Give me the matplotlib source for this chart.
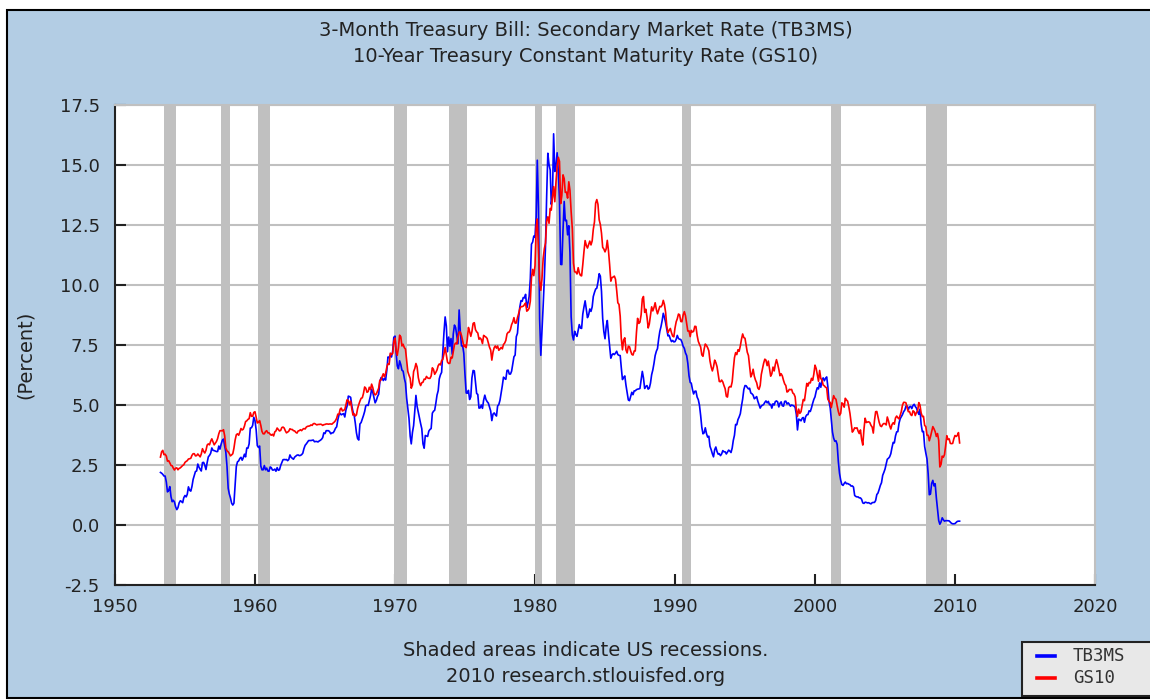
import numpy as np
import pandas as pd
import matplotlib
matplotlib.use("Agg")
from matplotlib import pyplot as plt
from matplotlib.patches import Rectangle
from matplotlib.lines import Line2D

# Monthly values, Apr 1953 .. May 2010 (percent)
tb3ms = [
    2.19, 2.16, 2.11, 2.04, 2.04, 1.79, 1.38, 1.44, 1.60,  # 1953 (Apr-Dec)
    1.18, 0.97, 1.03, 0.96, 0.76, 0.64, 0.72, 0.92, 1.01, 0.98, 0.93, 1.14,
    1.23, 1.17, 1.28, 1.59, 1.45, 1.41, 1.60, 1.90, 2.07, 2.23, 2.25, 2.54,
    2.41, 2.32, 2.25, 2.60, 2.61, 2.49, 2.31, 2.60, 2.84, 2.90, 2.99, 3.21,
    3.11, 3.10, 3.08, 3.06, 3.06, 3.29, 3.16, 3.37, 3.53, 3.58, 3.29, 3.04,
    2.44, 1.53, 1.30, 1.13, 0.91, 0.83, 0.91, 1.69, 2.44, 2.63, 2.67, 2.77,
    2.82, 2.70, 2.80, 2.95, 2.84, 3.21, 3.20, 3.38, 4.04, 4.05, 4.15, 4.49,
    4.35, 3.96, 3.31, 3.23, 3.29, 2.46, 2.30, 2.30, 2.48, 2.30, 2.37, 2.25,
    2.24, 2.42, 2.39, 2.29, 2.29, 2.33, 2.24, 2.39, 2.28, 2.30, 2.48, 2.60,
    2.72, 2.73, 2.72, 2.73, 2.68, 2.73, 2.92, 2.82, 2.78, 2.74, 2.83, 2.87,
    2.91, 2.92, 2.89, 2.90, 2.93, 2.99, 3.18, 3.32, 3.38, 3.45, 3.52, 3.52,
    3.52, 3.53, 3.54, 3.47, 3.48, 3.48, 3.46, 3.50, 3.53, 3.57, 3.64, 3.84,
    3.81, 3.93, 3.93, 3.93, 3.89, 3.80, 3.84, 3.84, 3.92, 4.03, 4.09, 4.38,
    4.59, 4.65, 4.59, 4.62, 4.64, 4.50, 4.80, 4.96, 5.37, 5.35, 5.32, 4.96,
    4.72, 4.56, 4.26, 3.84, 3.60, 3.54, 4.21, 4.27, 4.42, 4.56, 4.73, 4.97,
    5.00, 4.98, 5.17, 5.38, 5.66, 5.52, 5.31, 5.09, 5.19, 5.35, 5.45, 5.96,
    6.14, 6.12, 6.02, 6.11, 6.04, 6.44, 7.00, 6.98, 7.09, 7.00, 7.24, 7.82,
    7.87, 7.13, 6.63, 6.51, 6.84, 6.68, 6.45, 6.41, 6.12, 5.91, 5.28, 4.87,
    4.44, 3.70, 3.38, 3.86, 4.14, 4.75, 5.40, 4.94, 4.69, 4.46, 4.22, 4.01,
    3.38, 3.20, 3.73, 3.71, 3.69, 3.91, 3.98, 4.02, 4.66, 4.74, 4.78, 5.07,
    5.41, 5.60, 6.09, 6.26, 6.36, 7.19, 8.01, 8.67, 8.29, 7.22, 7.83, 7.45,
    7.77, 7.12, 7.96, 8.33, 8.23, 7.90, 7.55, 8.96, 8.06, 7.46, 7.47, 7.15,
    6.26, 5.50, 5.49, 5.61, 5.23, 5.34, 6.13, 6.44, 6.42, 5.96, 5.48, 5.44,
    4.87, 4.88, 5.00, 4.86, 5.20, 5.41, 5.23, 5.14, 5.08, 4.92, 4.75, 4.35,
    4.62, 4.67, 4.60, 4.54, 4.96, 5.02, 5.19, 5.49, 5.81, 6.16, 6.10, 6.07,
    6.44, 6.45, 6.29, 6.29, 6.41, 6.73, 7.01, 7.08, 7.85, 7.99, 8.64, 9.08,
    9.35, 9.32, 9.48, 9.46, 9.61, 9.06, 9.24, 9.52, 10.26, 11.70, 11.79, 12.04,
    12.00, 12.86, 15.20, 13.20, 8.58, 7.07, 8.06, 9.13, 10.27, 11.62, 13.73, 15.49,
    15.02, 14.79, 13.36, 13.69, 16.30, 14.73, 14.95, 15.51, 14.70, 13.54, 10.86, 10.85,
    12.28, 13.48, 12.68, 12.70, 12.09, 12.47, 11.35, 8.68, 7.92, 7.71, 8.07, 7.94,
    7.86, 8.11, 8.35, 8.21, 8.19, 8.79, 9.08, 9.34, 9.00, 8.64, 8.76, 9.00,
    8.90, 9.09, 9.52, 9.69, 9.83, 9.87, 10.12, 10.47, 10.37, 9.74, 8.61, 8.06,
    7.76, 8.27, 8.52, 7.95, 7.48, 6.95, 7.08, 7.14, 7.10, 7.16, 7.24, 7.10,
    7.07, 7.06, 6.56, 6.06, 6.15, 6.21, 5.83, 5.53, 5.21, 5.18, 5.35, 5.53,
    5.43, 5.59, 5.59, 5.64, 5.66, 5.67, 5.69, 6.04, 6.40, 6.13, 5.69, 5.77,
    5.81, 5.66, 5.70, 5.91, 6.26, 6.46, 6.73, 7.06, 7.24, 7.35, 7.76, 8.07,
    8.27, 8.53, 8.82, 8.65, 8.43, 8.15, 7.88, 7.90, 7.75, 7.64, 7.69, 7.63,
    7.64, 7.74, 7.90, 7.77, 7.74, 7.73, 7.62, 7.45, 7.36, 7.17, 7.06, 6.74,
    6.22, 5.94, 5.91, 5.65, 5.46, 5.57, 5.58, 5.33, 5.22, 4.99, 4.56, 4.07,
    3.80, 3.84, 4.05, 3.81, 3.66, 3.70, 3.28, 3.14, 2.97, 2.84, 3.14, 3.25,
    3.06, 2.95, 2.97, 2.89, 2.96, 3.10, 3.05, 3.05, 2.96, 3.04, 3.12, 3.08,
    3.02, 3.21, 3.52, 3.74, 4.19, 4.18, 4.39, 4.50, 4.64, 4.96, 5.25, 5.64,
    5.81, 5.80, 5.73, 5.67, 5.70, 5.50, 5.47, 5.41, 5.26, 5.30, 5.35, 5.16,
    5.02, 4.87, 4.96, 4.99, 5.02, 5.11, 5.17, 5.09, 5.15, 5.01, 5.03, 4.87,
    5.05, 5.00, 5.14, 5.17, 5.13, 4.92, 5.07, 5.13, 4.97, 4.95, 5.15, 5.16,
    5.04, 5.09, 5.03, 4.95, 5.00, 4.98, 4.96, 4.90, 4.61, 3.96, 4.41, 4.39,
    4.34, 4.45, 4.48, 4.28, 4.51, 4.59, 4.60, 4.76, 4.73, 4.88, 5.07, 5.23,
    5.34, 5.57, 5.72, 5.67, 5.92, 5.74, 6.03, 6.13, 6.01, 6.11, 6.17, 5.77,
    5.15, 4.88, 4.42, 3.87, 3.62, 3.49, 3.51, 3.36, 2.64, 2.16, 1.87, 1.69,
    1.65, 1.73, 1.79, 1.72, 1.73, 1.70, 1.68, 1.62, 1.63, 1.58, 1.23, 1.19,
    1.17, 1.17, 1.13, 1.13, 1.07, 0.92, 0.90, 0.95, 0.94, 0.92, 0.93, 0.90,
    0.88, 0.93, 0.94, 0.94, 1.02, 1.27, 1.33, 1.48, 1.65, 1.76, 2.07, 2.19,
    2.33, 2.54, 2.74, 2.78, 2.84, 2.97, 3.22, 3.44, 3.42, 3.71, 3.88, 3.89,
    4.24, 4.43, 4.51, 4.60, 4.72, 4.79, 4.95, 4.96, 4.81, 4.92, 4.94, 4.85,
    4.98, 5.03, 4.94, 4.87, 4.73, 4.61, 4.82, 4.20, 3.89, 3.90, 3.27, 3.00,
    2.75, 2.12, 1.26, 1.29, 1.73, 1.86, 1.63, 1.72, 1.13, 0.67, 0.19, 0.03,
    0.13, 0.30, 0.22, 0.16, 0.18, 0.18, 0.18, 0.17, 0.12, 0.07, 0.05, 0.05,
    0.06, 0.11, 0.15, 0.16, 0.16,  # 2010 (Jan-May)
]

gs10 = [
    2.83, 3.05, 3.11, 2.93, 2.95, 2.87, 2.66, 2.68, 2.59,  # 1953 (Apr-Dec)
    2.48, 2.47, 2.37, 2.29, 2.37, 2.38, 2.30, 2.36, 2.38, 2.43, 2.48, 2.51,
    2.61, 2.65, 2.68, 2.75, 2.76, 2.78, 2.90, 2.97, 2.97, 2.88, 2.89, 2.96,
    2.90, 2.84, 2.96, 3.18, 3.07, 3.00, 3.11, 3.33, 3.38, 3.34, 3.49, 3.59,
    3.46, 3.34, 3.41, 3.48, 3.60, 3.80, 3.93, 3.93, 3.92, 3.97, 3.72, 3.21,
    3.09, 3.05, 2.98, 2.88, 2.92, 2.97, 3.20, 3.54, 3.76, 3.80, 3.74, 3.86,
    4.02, 3.96, 3.99, 4.12, 4.31, 4.34, 4.40, 4.43, 4.68, 4.53, 4.53, 4.69,
    4.72, 4.49, 4.25, 4.28, 4.35, 4.15, 3.90, 3.80, 3.80, 3.89, 3.93, 3.84,
    3.84, 3.78, 3.74, 3.78, 3.71, 3.88, 3.92, 4.04, 3.98, 3.92, 3.94, 4.06,
    4.08, 4.04, 3.93, 3.84, 3.87, 3.91, 4.01, 3.98, 3.98, 3.93, 3.92, 3.86,
    3.83, 3.92, 3.93, 3.97, 3.93, 3.99, 4.02, 4.00, 4.08, 4.11, 4.12, 4.13,
    4.17, 4.15, 4.22, 4.23, 4.20, 4.17, 4.19, 4.19, 4.20, 4.19, 4.15, 4.18,
    4.19, 4.21, 4.21, 4.20, 4.21, 4.21, 4.20, 4.25, 4.29, 4.35, 4.45, 4.62,
    4.61, 4.83, 4.87, 4.75, 4.78, 4.81, 5.02, 5.22, 5.18, 5.01, 5.16, 4.84,
    4.58, 4.63, 4.54, 4.59, 4.85, 5.02, 5.16, 5.28, 5.30, 5.48, 5.75, 5.70,
    5.53, 5.56, 5.74, 5.64, 5.87, 5.72, 5.50, 5.42, 5.46, 5.58, 5.70, 6.03,
    6.04, 6.19, 6.30, 6.17, 6.32, 6.57, 6.72, 6.69, 7.16, 7.10, 7.14, 7.65,
    7.79, 7.24, 7.07, 7.39, 7.91, 7.84, 7.46, 7.53, 7.39, 7.33, 6.84, 6.39,
    6.24, 6.11, 5.70, 5.83, 6.39, 6.52, 6.73, 6.58, 6.14, 5.93, 5.81, 5.93,
    5.95, 6.08, 6.07, 6.19, 6.13, 6.11, 6.11, 6.21, 6.55, 6.48, 6.28, 6.36,
    6.46, 6.64, 6.71, 6.67, 6.85, 6.90, 7.13, 7.40, 7.09, 6.79, 6.73, 6.74,
    6.99, 6.96, 7.21, 7.51, 7.58, 7.54, 7.81, 8.04, 8.04, 7.90, 7.68, 7.43,
    7.50, 7.39, 7.73, 8.23, 8.06, 7.86, 8.06, 8.40, 8.43, 8.14, 8.05, 8.00,
    7.74, 7.79, 7.73, 7.56, 7.90, 7.86, 7.83, 7.77, 7.59, 7.41, 7.29, 6.87,
    7.21, 7.39, 7.46, 7.37, 7.46, 7.28, 7.33, 7.40, 7.34, 7.52, 7.58, 7.69,
    7.96, 8.03, 8.04, 8.15, 8.35, 8.46, 8.64, 8.41, 8.42, 8.64, 8.81, 9.01,
    9.10, 9.10, 9.12, 9.18, 9.25, 8.91, 8.95, 9.03, 9.33, 10.30, 10.65, 10.39,
    10.80, 12.41, 12.75, 11.47, 10.18, 9.78, 10.25, 11.10, 11.51, 11.75, 12.68, 12.84,
    12.57, 13.19, 13.12, 13.68, 14.10, 13.47, 14.28, 14.94, 15.32, 15.15, 13.39, 13.72,
    14.59, 14.43, 13.86, 13.87, 13.62, 14.30, 13.95, 13.06, 12.34, 10.91, 10.55, 10.54,
    10.46, 10.72, 10.51, 10.40, 10.38, 10.85, 11.38, 11.85, 11.65, 11.54, 11.69, 11.83,
    11.67, 11.84, 12.32, 12.63, 13.41, 13.56, 13.36, 12.72, 12.52, 12.16, 11.57, 11.50,
    11.38, 11.51, 11.86, 11.43, 10.85, 10.16, 10.31, 10.33, 10.37, 10.24, 9.78, 9.26,
    9.19, 8.70, 7.78, 7.30, 7.71, 7.80, 7.30, 7.17, 7.45, 7.43, 7.25, 7.11,
    7.08, 7.25, 7.25, 8.02, 8.61, 8.40, 8.45, 8.76, 9.42, 9.52, 8.86, 8.99,
    8.67, 8.21, 8.37, 8.72, 9.09, 8.92, 9.06, 9.26, 8.98, 8.80, 8.96, 9.11,
    9.09, 9.17, 9.36, 9.18, 8.86, 8.28, 8.02, 8.11, 8.19, 8.01, 7.87, 7.84,
    8.21, 8.47, 8.59, 8.79, 8.76, 8.48, 8.47, 8.75, 8.89, 8.72, 8.39, 8.08,
    8.09, 7.85, 8.11, 8.04, 8.07, 8.28, 8.27, 7.90, 7.65, 7.53, 7.42, 7.09,
    7.03, 7.34, 7.54, 7.48, 7.39, 7.26, 6.84, 6.59, 6.42, 6.59, 6.87, 6.77,
    6.60, 6.26, 5.98, 5.97, 6.04, 5.96, 5.81, 5.68, 5.36, 5.33, 5.72, 5.77,
    5.75, 5.97, 6.48, 6.97, 7.18, 7.10, 7.30, 7.24, 7.46, 7.74, 7.96, 7.81,
    7.78, 7.47, 7.20, 7.06, 6.63, 6.17, 6.28, 6.49, 6.20, 6.04, 5.93, 5.71,
    5.65, 5.81, 6.27, 6.51, 6.74, 6.91, 6.87, 6.64, 6.83, 6.53, 6.20, 6.30,
    6.58, 6.42, 6.69, 6.89, 6.71, 6.49, 6.22, 6.30, 6.21, 6.03, 5.88, 5.81,
    5.54, 5.57, 5.65, 5.64, 5.65, 5.50, 5.46, 5.34, 4.81, 4.53, 4.83, 4.65,
    4.72, 5.00, 5.23, 5.18, 5.54, 5.90, 5.79, 5.94, 5.92, 6.11, 6.03, 6.28,
    6.66, 6.52, 6.26, 5.99, 6.44, 6.10, 6.05, 5.83, 5.80, 5.74, 5.72, 5.24,
    5.16, 5.10, 4.89, 5.14, 5.39, 5.28, 5.24, 4.97, 4.73, 4.57, 4.65, 5.09,
    5.04, 4.91, 5.28, 5.21, 5.16, 4.93, 4.65, 4.26, 3.87, 3.94, 4.05, 4.03,
    4.05, 3.90, 3.81, 3.96, 3.57, 3.33, 3.98, 4.45, 4.27, 4.29, 4.30, 4.27,
    4.15, 4.08, 3.83, 4.35, 4.72, 4.73, 4.50, 4.28, 4.13, 4.10, 4.19, 4.23,
    4.22, 4.17, 4.50, 4.34, 4.14, 4.00, 4.18, 4.26, 4.20, 4.46, 4.54, 4.47,
    4.42, 4.57, 4.72, 4.99, 5.11, 5.11, 5.09, 4.88, 4.72, 4.73, 4.60, 4.56,
    4.76, 4.72, 4.56, 4.69, 4.75, 5.10, 5.00, 4.67, 4.52, 4.53, 4.15, 4.10,
    3.74, 3.74, 3.51, 3.68, 3.88, 4.10, 4.01, 3.89, 3.69, 3.81, 3.53, 2.42,
    2.52, 2.87, 2.82, 2.93, 3.29, 3.72, 3.56, 3.59, 3.40, 3.39, 3.40, 3.59,
    3.73, 3.69, 3.73, 3.85, 3.42,  # 2010 (Jan-May)
]

# NBER recessions (peak, trough)
recession_start = ["1953-07", "1957-08", "1960-04", "1969-12", "1973-11",
                   "1980-01", "1981-07", "1990-07", "2001-03", "2007-12"]
recession_end = ["1954-05", "1958-04", "1961-02", "1970-11", "1975-03",
                 "1980-07", "1982-11", "1991-03", "2001-11", "2009-06"]

series_names = ["TB3MS", "GS10"]
series_colors = ["#0000ff", "#ff0000"]

y_ticks = [-2.5, 0.0, 2.5, 5.0, 7.5, 10.0, 12.5, 15.0, 17.5]
x_years = [1950, 1960, 1970, 1980, 1990, 2000, 2010, 2020]

bg_blue = "#b3cde4"
rec_gray = "#c0c0c0"
text_col = "#222222"

W, H = 1150, 700
fig = plt.figure(figsize=(W / 100, H / 100), dpi=100, facecolor="white")

# Blue panel with black border (behind everything)
panel = Rectangle((7 / W, 2 / H), 1.0, (698 - 10) / H, transform=fig.transFigure,
                  facecolor=bg_blue, edgecolor="black", linewidth=1.5, zorder=-10)
fig.patches.append(panel)

ax = fig.add_axes([115 / W, 1 - 585 / H, 980 / W, 480 / H], zorder=2)
ax.set_facecolor("white")

dates = pd.date_range("1953-04-01", periods=len(tb3ms), freq="MS")
dates_gs = pd.date_range("1953-04-01", periods=len(gs10), freq="MS")

# Horizontal grid
for yv in y_ticks:
    ax.axhline(yv, color=rec_gray, lw=1.5, zorder=1)

# Recession shading
for s, e in zip(recession_start, recession_end):
    ax.axvspan(pd.Timestamp(s), pd.Timestamp(e), color=rec_gray, lw=0, zorder=2)

ax.plot(dates, tb3ms, color=series_colors[0], lw=1.2, zorder=3)
ax.plot(dates_gs, gs10, color=series_colors[1], lw=1.2, zorder=4)

ax.set_xlim(pd.Timestamp("1950-01-01"), pd.Timestamp("2020-01-01"))
ax.set_ylim(-2.5, 17.5)
ax.set_yticks(y_ticks)
ax.set_yticklabels([f"{v:.1f}" for v in y_ticks])
ax.set_xticks([pd.Timestamp(f"{y}-01-01") for y in x_years])
ax.set_xticklabels([str(y) for y in x_years])

ax.tick_params(axis="both", direction="in", length=8, width=1.5, color=text_col,
               labelsize=13, labelcolor=text_col)
ax.tick_params(axis="y", pad=11)
ax.tick_params(axis="x", pad=9)

for side in ["left", "bottom"]:
    ax.spines[side].set_color(text_col)
    ax.spines[side].set_linewidth(1.5)
for side in ["top", "right"]:
    ax.spines[side].set_color(rec_gray)
    ax.spines[side].set_linewidth(1.5)

fig.text(25 / W, 1 - 355 / H, "(Percent)", rotation=90, fontsize=14, color=text_col,
         ha="center", va="center")

fig.text(586 / W, 1 - 30 / H, "3-Month Treasury Bill: Secondary Market Rate (TB3MS)",
         fontsize=14, color=text_col, ha="center", va="center")
fig.text(586 / W, 1 - 56 / H, "10-Year Treasury Constant Maturity Rate (GS10)",
         fontsize=14, color=text_col, ha="center", va="center")
fig.text(586 / W, 1 - 651 / H, "Shaded areas indicate US recessions.",
         fontsize=14, color=text_col, ha="center", va="center")
fig.text(586 / W, 1 - 677 / H, "2010 research.stlouisfed.org",
         fontsize=14, color=text_col, ha="center", va="center")

# Legend box in the bottom-right corner
fig.patches.append(Rectangle((1022 / W, 1 - 696 / H), 140 / W, 54 / H,
                             transform=fig.transFigure, facecolor="#e8e8e8",
                             edgecolor=text_col, linewidth=1.5, zorder=5))
for i, (name, col) in enumerate(zip(series_names, series_colors)):
    yy = 1 - (656 + 22 * i) / H
    fig.add_artist(Line2D([1037 / W, 1055 / W], [yy, yy], transform=fig.transFigure,
                          color=col, lw=2.6, zorder=6))
    fig.text(1073 / W, yy, name, fontsize=12.5, family="DejaVu Sans Mono",
             color="#333333", ha="left", va="center", zorder=6)

fig.savefig("out.png", dpi=100, facecolor="white")
